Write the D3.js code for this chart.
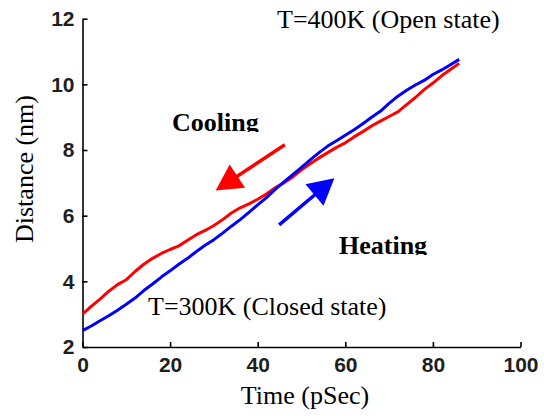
<!DOCTYPE html>
<html lang="en">
<head>
    <meta charset="UTF-8">
    <title>Distance vs Time</title>
    <script src="https://d3js.org/d3.v7.min.js"></script>
    <style>
        body { margin: 0; background: #fff; }
        .tick text { font-family: "Liberation Sans", Arial, sans-serif; font-weight: bold; font-size: 21px; fill: #1e1e1e; }
        .lbl { font-family: "Liberation Serif", "Times New Roman", serif; font-size: 26px; fill: #000; }
        .bold { font-weight: bold; }
    </style>
</head>
<body>
    <script>
        // time (pSec)
        const timeT = [0, 2, 4, 6, 8, 10, 12, 14, 16, 18, 20, 22, 24, 26, 28, 30, 32, 34, 36, 38, 40, 42,
            44, 46, 48, 50, 52, 54, 56, 58, 60, 62, 64, 66, 68, 70, 72, 74, 76, 78, 80, 82, 84, 86];
        // heating run (blue)
        const heating = [2.50, 2.64, 2.80, 2.95, 3.12, 3.30, 3.49, 3.72, 3.92, 4.13, 4.32, 4.52, 4.70, 4.91,
            5.10, 5.27, 5.47, 5.68, 5.88, 6.10, 6.33, 6.55, 6.80, 7.03, 7.25, 7.47, 7.70, 7.92, 8.12, 8.28,
            8.45, 8.62, 8.80, 9.00, 9.18, 9.42, 9.64, 9.82, 9.98, 10.12, 10.30, 10.44, 10.60, 10.76];
        // cooling run (red)
        const cooling = [3.00, 3.24, 3.46, 3.70, 3.90, 4.05, 4.30, 4.52, 4.70, 4.85, 4.97, 5.08, 5.25, 5.42,
            5.55, 5.70, 5.88, 6.08, 6.24, 6.36, 6.50, 6.66, 6.85, 7.00, 7.18, 7.40, 7.58, 7.76, 7.92, 8.08,
            8.22, 8.40, 8.56, 8.73, 8.88, 9.02, 9.16, 9.38, 9.60, 9.84, 10.04, 10.26, 10.45, 10.64];
        const xTicks = [0, 20, 40, 60, 80, 100];
        const yTicks = [2, 4, 6, 8, 10, 12];

        const width = 544, height = 416;

        const x = d3.scaleLinear().domain([0, 100]).range([82.5, 520.5]);
        const y = d3.scaleLinear().domain([2, 12]).range([347, 18.7]);

        const svg = d3.select("body").append("svg")
            .attr("width", width)
            .attr("height", height);

        // clip for the annotation words (descenders are cut in the original)
        const defs = svg.append("defs");
        defs.append("clipPath").attr("id", "cutCool")
            .append("rect").attr("x", 160).attr("y", 100).attr("width", 110).attr("height", 32);
        defs.append("clipPath").attr("id", "cutHeat")
            .append("rect").attr("x", 330).attr("y", 224).attr("width", 110).attr("height", 31);

        // axes
        svg.append("g")
            .attr("transform", `translate(0,${y(2)})`)
            .call(d3.axisBottom(x).tickValues(xTicks).tickSizeInner(-5).tickSizeOuter(0).tickPadding(10))
            .call(g => g.selectAll("path, line").attr("stroke", "#000").attr("stroke-width", 1.6));

        svg.append("g")
            .attr("transform", `translate(${x(0)},0)`)
            .call(d3.axisLeft(y).tickValues(yTicks).tickSizeInner(-5).tickSizeOuter(0).tickPadding(8))
            .call(g => g.selectAll("path, line").attr("stroke", "#000").attr("stroke-width", 1.6));

        // series
        const line = d3.line().x((d, i) => x(timeT[i])).y(d => y(d));

        svg.append("path").datum(cooling)
            .attr("fill", "none").attr("stroke", "#ff0000").attr("stroke-width", 3)
            .attr("stroke-linejoin", "round")
            .attr("d", line);

        svg.append("path").datum(heating)
            .attr("fill", "none").attr("stroke", "#0000ff").attr("stroke-width", 3)
            .attr("stroke-linejoin", "round")
            .attr("d", line);

        // arrows, tail -> tip in data coords, head drawn as a triangle
        function arrow(t0, d0, t1, d1, color) {
            const x0 = x(t0), y0 = y(d0), x1 = x(t1), y1 = y(d1);
            const len = Math.hypot(x1 - x0, y1 - y0);
            const ux = (x1 - x0) / len, uy = (y1 - y0) / len;
            const hl = 26, hw = 14;
            const bx = x1 - ux * hl, by = y1 - uy * hl;
            svg.append("line")
                .attr("x1", x0).attr("y1", y0)
                .attr("x2", bx + ux * 2).attr("y2", by + uy * 2)
                .attr("stroke", color).attr("stroke-width", 3.5);
            svg.append("path")
                .attr("d", `M${x1},${y1}L${bx - uy * hw},${by + ux * hw}L${bx + uy * hw},${by - ux * hw}Z`)
                .attr("fill", color);
        }
        arrow(46.2, 8.16, 30.4, 6.77, "#ff0000");
        arrow(44.9, 5.72, 57.5, 7.14, "#0000ff");

        // labels
        svg.append("text").attr("class", "lbl").attr("x", 277).attr("y", 28)
            .text("T=400K (Open state)");
        svg.append("text").attr("class", "lbl").attr("x", 148).attr("y", 315)
            .text("T=300K (Closed state)");
        svg.append("text").attr("class", "lbl bold").attr("x", 172).attr("y", 131)
            .attr("clip-path", "url(#cutCool)")
            .text("Cooling");
        svg.append("text").attr("class", "lbl bold").attr("x", 339).attr("y", 254)
            .attr("clip-path", "url(#cutHeat)")
            .text("Heating");

        svg.append("text").attr("class", "lbl")
            .attr("text-anchor", "middle")
            .attr("x", 305).attr("y", 404)
            .text("Time (pSec)");
        svg.append("text").attr("class", "lbl")
            .attr("text-anchor", "middle")
            .attr("transform", "translate(33,169) rotate(-90)")
            .text("Distance (nm)");
    </script>
</body>
</html>
